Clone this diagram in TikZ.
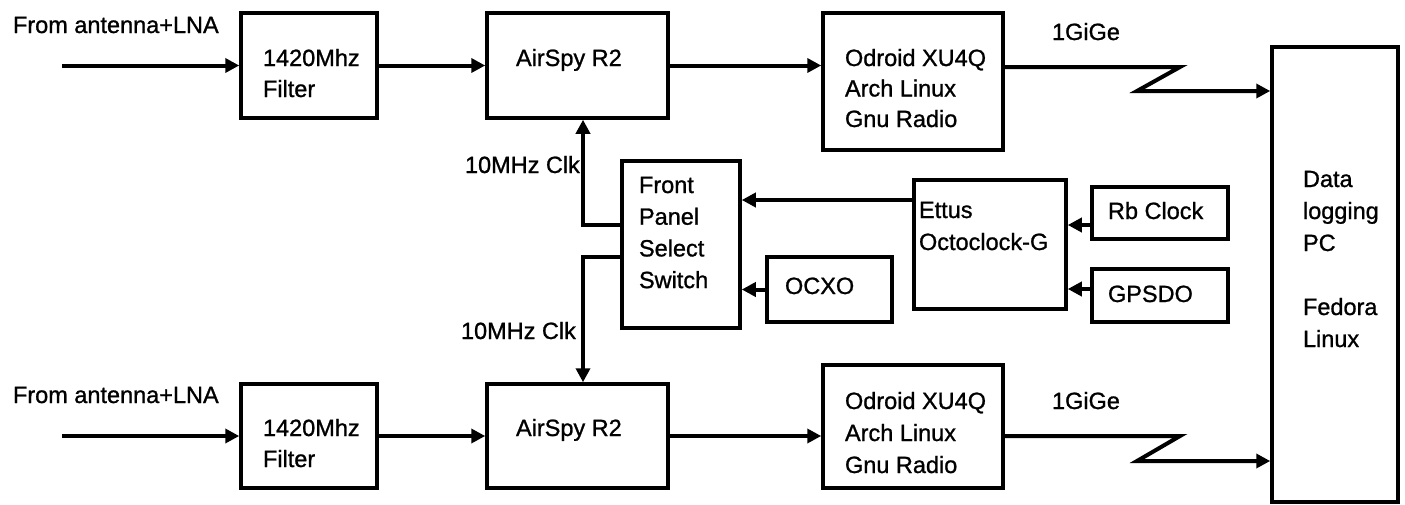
\documentclass[tikz,border=0pt]{standalone}
\usepackage{fontspec}
\setmainfont{Liberation Sans}[FakeBold=1]
\usetikzlibrary{arrows.meta}
\newcommand\fstrut{\rule{0pt}{20pt}}
\begin{document}
\begin{tikzpicture}[x=1pt,y=-1pt,
  box/.style={draw, line width=3.5pt, inner sep=0pt},
  arr/.style={line width=4pt, -{Triangle[length=14pt,width=14pt]}},
  txt/.style={anchor=north west, inner sep=0pt, outer sep=0pt, align=left,
              font=\fontsize{23.5}{32}\selectfont}]
\fill[white] (0,0) rectangle (1405,504);
\useasboundingbox (0,0) rectangle (1405,504);

% ---- boxes ----
\node[box, minimum width=136pt, minimum height=105pt] (filt1) at (309,65.5) {};
\node[box, minimum width=181pt, minimum height=105pt] (air1) at (577.5,65.5) {};
\node[box, minimum width=180pt, minimum height=137pt] (odr1) at (913,81.5) {};
\node[box, minimum width=126pt, minimum height=455pt] (pc) at (1335,274.5) {};
\node[box, minimum width=118pt, minimum height=167pt] (fps) at (681,244.5) {};
\node[box, minimum width=125pt, minimum height=65pt] (ocxo) at (829.5,289.5) {};
\node[box, minimum width=152pt, minimum height=129pt] (ettus) at (990,244.5) {};
\node[box, minimum width=136pt, minimum height=52pt] (rb) at (1160,213) {};
\node[box, minimum width=136pt, minimum height=53pt] (gps) at (1160,295.5) {};
\node[box, minimum width=136pt, minimum height=104pt] (filt2) at (309,436) {};
\node[box, minimum width=181pt, minimum height=104pt] (air2) at (577.5,436) {};
\node[box, minimum width=180pt, minimum height=123pt] (odr2) at (913,426.5) {};

% ---- texts ----
\node[txt] (tfrom1) at (13,13) {\fstrut From antenna+LNA};
\node[txt] (tfrom2) at (13,383) {\fstrut From antenna+LNA};
\node[txt, font=\fontsize{23.5}{31}\selectfont] (tfilt1) at (263,46) {\fstrut 1420Mhz\\Filter};
\node[txt, font=\fontsize{23.5}{31}\selectfont] (tfilt2) at (263,416) {\fstrut 1420Mhz\\Filter};
\node[txt] (tair1) at (516,46) {\fstrut AirSpy R2};
\node[txt] (tair2) at (516,416) {\fstrut AirSpy R2};
\node[txt, font=\fontsize{23.5}{30.5}\selectfont] (todr1) at (845,46) {\fstrut Odroid XU4Q\\Arch Linux\\Gnu Radio};
\node[txt] (todr2) at (845,389) {\fstrut Odroid XU4Q\\Arch Linux\\Gnu Radio};
\node[txt] (tgig1) at (1052,20) {\fstrut 1GiGe};
\node[txt] (tgig2) at (1052,389) {\fstrut 1GiGe};
\node[txt, font=\fontsize{23.5}{31.7}\selectfont] (tfps) at (639,173) {\fstrut Front\\Panel\\Select\\Switch};
\node[txt] (tclk1) at (465,153) {\fstrut 10MHz Clk};
\node[txt] (tclk2) at (461,319) {\fstrut 10MHz Clk};
\node[txt] (tocxo) at (785,274) {\fstrut OCXO};
\node[txt] (tettus) at (919,198) {\fstrut Ettus\\Octoclock-G};
\node[txt] (trb) at (1108,199) {\fstrut Rb Clock};
\node[txt] (tgps) at (1108,282) {\fstrut GPSDO};
\node[txt] (tpc) at (1303,167) {\fstrut Data\\logging\\PC\\[32pt]Fedora\\Linux};

% ---- connectors, top chain ----
\coordinate (in1) at (62,65.5);
\draw[arr] (in1) -- (filt1.west);
\draw[arr] (filt1.east) -- (air1.west);
\draw[arr] (air1.east) -- (air1.east -| odr1.west);
\coordinate (z1a) at (1180,67);
\coordinate (z1b) at (1137,91);
\draw[arr] (odr1.east |- z1a) -- (z1a) -- (z1b) -- (z1b -| pc.west);

% ---- connectors, bottom chain ----
\coordinate (in2) at (62,436);
\draw[arr] (in2) -- (filt2.west);
\draw[arr] (filt2.east) -- (air2.west);
\draw[arr] (air2.east) -- (air2.east -| odr2.west);
\coordinate (z2a) at (1180,436);
\coordinate (z2b) at (1137,461);
\draw[arr] (odr2.east |- z2a) -- (z2a) -- (z2b) -- (z2b -| pc.west);

% ---- clock distribution ----
\coordinate (c1) at (583,225);
\coordinate (c2) at (583,257);
\draw[arr] (c1 -| fps.west) -- (c1) -- (c1 |- air1.south);
\draw[arr] (c2 -| fps.west) -- (c2) -- (c2 |- air2.north);
\coordinate (e1) at (900,200);
\draw[arr] (e1 -| ettus.west) -- (e1 -| fps.east);
\draw[arr] (ocxo.west) -- (ocxo.west -| fps.east);
\coordinate (r1) at (1080,225);
\draw[arr] (r1 -| rb.west) -- (r1 -| ettus.east);
\coordinate (g1) at (1080,289);
\draw[arr] (g1 -| gps.west) -- (g1 -| ettus.east);
\end{tikzpicture}
\end{document}
